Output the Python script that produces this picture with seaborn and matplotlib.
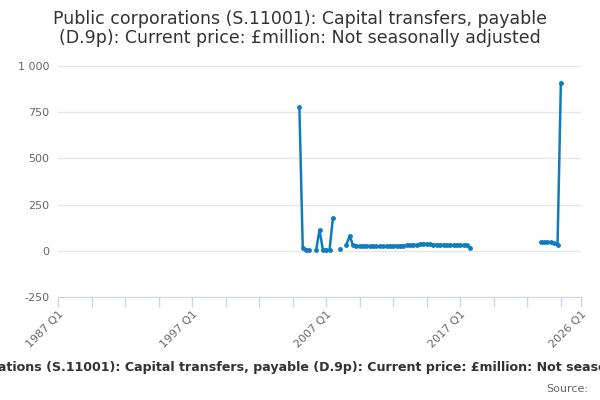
import numpy as np
import pandas as pd
import matplotlib
matplotlib.use("Agg")
import matplotlib.pyplot as plt
import seaborn as sns

# quarterly values, 2005 Q1 .. 2017 Q4 (NaN = no value)
inicio_a = 2005
valores_a = [780, 15, 5, 4,
             np.nan, 5, 113, 7,
             5, 5, 178, np.nan,
             12, np.nan, 32, 81,
             29, 27, 26, 26,
             26, 25, 25, 25,
             24, 24, 24, 25,
             27, 27, 27, 28,
             31, 32, 32, 32,
             36, 38, 38, 36,
             33, 32, 32, 32,
             32, 31, 31, 31,
             31, 31, 31, 15]
# 2023 Q1 .. 2024 Q3
inicio_b = 2023
valores_b = [48, 47, 48, 46, 40, 30, 910]

rotulos_x = ["1987 Q1", "1997 Q1", "2007 Q1", "2017 Q1", "2026 Q1"]
pos_rotulos = [1987, 1997, 2007, 2017, 2026]
ticks_y = [-250, 0, 250, 500, 750, 1000]
rotulos_y = ["-250", "0", "250", "500", "750", "1 000"]

titulo = ("Public corporations (S.11001): Capital transfers, payable\n"
          "(D.9p): Current price: £million: Not seasonally adjusted")
legenda = ("Public corporations (S.11001): Capital transfers, payable (D.9p): "
           "Current price: £million: Not seasonally adjusted")


def montar(inicio, valores):
    anos = inicio + np.arange(len(valores)) / 4
    return pd.DataFrame({"ano": anos, "valor": valores})


df = pd.concat([montar(inicio_a, valores_a), montar(inicio_b, valores_b)],
               ignore_index=True)
# break the line wherever a quarter is missing or there is a gap in time
quebra = df["valor"].isna() | (df["ano"].diff().round(2) != 0.25)
df["trecho"] = quebra.cumsum()
df = df.dropna()

sns.set_style("white")
cor = "#0f7cc2"

fig = plt.figure(figsize=(6, 4), dpi=100)
ax = fig.add_axes([58 / 600, 1 - 297 / 400, (581 - 58) / 600, (297 - 66) / 400])

sns.lineplot(data=df, x="ano", y="valor", units="trecho", estimator=None,
             color=cor, linewidth=1.8, marker="o", markersize=3.5,
             markeredgewidth=0, ax=ax)

posicoes = list(np.arange(1987, 2025, 2.5)) + [2026]
ax.set_xlim(1987, 2026)
ax.set_ylim(-250, 1000)
ax.set_yticks(ticks_y)
ax.set_yticklabels(rotulos_y)
ax.set_xticks(posicoes)
ax.set_xticklabels([rotulos_x[pos_rotulos.index(t)] if t in pos_rotulos else ""
                    for t in posicoes])
ax.grid(axis="y", color="#e6e6e6", linewidth=1)
ax.set_axisbelow(True)
ax.set_xlabel("")
ax.set_ylabel("")

for lado in ["top", "right", "left"]:
    ax.spines[lado].set_visible(False)
ax.spines["bottom"].set_color("#ccd6eb")
ax.spines["bottom"].set_zorder(3)

ax.tick_params(axis="x", bottom=True, length=7.5, width=1, color="#ccd6eb",
               labelsize=8, labelcolor="#666666", pad=1)
ax.tick_params(axis="y", left=False, length=0, labelsize=8,
               labelcolor="#666666", pad=6)
plt.setp(ax.get_xticklabels(), rotation=45, ha="right", rotation_mode="anchor")

fig.text(0.5, 1 - 10 / 400, titulo, ha="center", va="top", fontsize=12.5,
         color="#333333", linespacing=1.1)
fig.text(0.51, 1 - 367 / 400, legenda, ha="center", va="center",
         fontsize=9.1, fontweight="bold", color="#333333")
fig.text(588 / 600, 1 - 389 / 400, "Source:", ha="right", va="center",
         fontsize=8, color="#666666")

fig.savefig("out.png", dpi=100)
